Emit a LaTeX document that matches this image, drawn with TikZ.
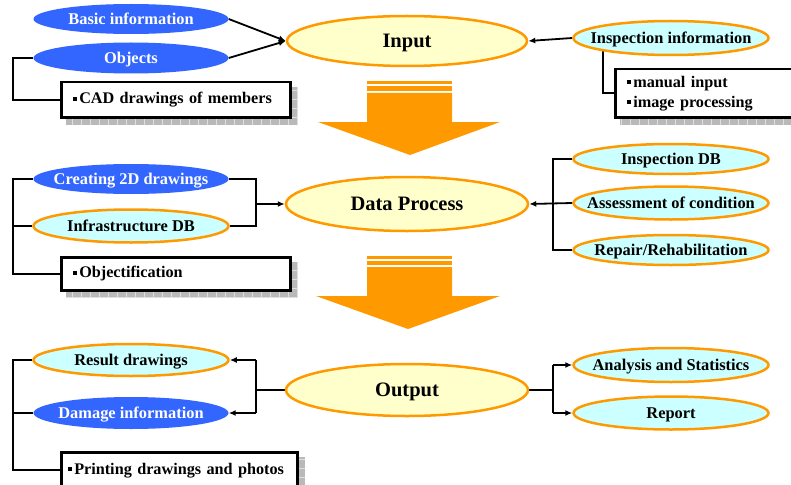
\documentclass[tikz,border=0pt]{standalone}
\usepackage{fontspec}
\setmainfont{Liberation Serif}
\usetikzlibrary{shapes.geometric,arrows.meta,backgrounds}
\definecolor{orng}{HTML}{FF9900}
\definecolor{blu}{HTML}{3366FF}
\definecolor{cyn}{HTML}{CCFFFF}
\definecolor{ylw}{HTML}{FFFFCC}
\newcommand{\sqb}{\rule[0.18em]{4pt}{4pt}\hspace{2pt}}
\newcommand{\zw}[1]{\makebox[0pt]{#1}}
\begin{document}
\begin{tikzpicture}[x=1pt,y=-1pt,
  mainell/.style={ellipse, draw=orng, line width=2.5pt, fill=ylw, inner sep=0pt,
    text depth=0pt, font=\fontsize{20.5}{22}\selectfont\bfseries},
  cyanell/.style={ellipse, draw=orng, line width=2.5pt, fill=cyn, inner sep=0pt,
    text depth=0pt, minimum width=195pt, font=\fontsize{16.4}{18}\selectfont\bfseries},
  blueell/.style={ellipse, fill=blu, text=white, inner sep=0pt, text depth=0pt,
    minimum width=195pt, font=\fontsize{16.4}{18}\selectfont\bfseries},
  boxnode/.style={draw, line width=2.5pt, fill=white, anchor=north west, align=left,
    inner xsep=12pt, inner ysep=0pt, font=\fontsize{16.2}{20}\selectfont\bfseries},
  conn/.style={line width=1.8pt},
  arr/.style={line width=1.8pt, -{Latex[length=7pt,width=6pt]}},
  bigarrow/.style={fill=orng, draw=none}
]
\useasboundingbox (0,0) rectangle (791,484);

% ---------- Input row ----------
\node[mainell, minimum width=240pt, minimum height=50pt] (input) at (407,41) {\zw{Input}};
\node[blueell, minimum height=30pt] (basic) at (131,19) {\zw{Basic information}};
\node[blueell, minimum height=31pt] (objects) at (131,58) {\zw{Objects}};
\node[cyanell, minimum height=34pt] (insp) at (671,38) {\zw{Inspection information}};
\node[boxnode, text width=205pt, minimum height=35pt] (cad) at (60,81) {\sqb CAD drawings of members};
\node[boxnode, text width=200pt, minimum height=48pt] (manual) at (614,68) {\sqb manual input\\\sqb image processing};

% ---------- Data process row ----------
\node[mainell, minimum width=242pt, minimum height=54pt] (dp) at (407,204) {\zw{Data Process}};
\node[blueell, minimum height=30pt] (creating) at (131,179) {\zw{Creating 2D drawings}};
\node[cyanell, minimum height=33pt] (infra) at (131,226) {\zw{Infrastructure DB}};
\node[boxnode, text width=205pt, minimum height=33pt] (objf) at (60,256) {\sqb Objectification};
\node[cyanell, minimum height=30pt] (inspdb) at (671,159) {\zw{Inspection DB}};
\node[cyanell, minimum height=33pt] (assess) at (671,203) {\zw{Assessment of condition}};
\node[cyanell, minimum height=30pt] (repair) at (671,250) {\zw{Repair/Rehabilitation}};

% ---------- Output row ----------
\node[mainell, minimum width=242pt, minimum height=52pt] (out) at (407,390) {\zw{Output}};
\node[cyanell, minimum height=32pt] (result) at (131,360) {\zw{Result drawings}};
\node[blueell, minimum height=32pt] (damage) at (131,413) {\zw{Damage information}};
\node[boxnode, inner xsep=7pt, text width=222pt, minimum height=36pt] (print) at (60,451) {\sqb Printing drawings and photos};
\node[cyanell, minimum height=34pt] (analysis) at (671,365) {\zw{Analysis and Statistics}};
\node[cyanell, minimum height=33pt] (report) at (671,413) {\zw{Report}};

% ---------- Big arrows ----------
\fill[bigarrow] (367,81) rectangle (452,84);
\fill[bigarrow] (367,86) rectangle (452,91);
\fill[bigarrow] (367,93) -- (452,93) -- (452,122) -- (500,122) -- (410,155) -- (318,122) -- (367,122) -- cycle;
\fill[bigarrow] (367,256) rectangle (452,259);
\fill[bigarrow] (367,261) rectangle (452,265);
\fill[bigarrow] (367,267) -- (452,267) -- (452,296) -- (500,296) -- (408,329) -- (316,296) -- (367,296) -- cycle;

\coordinate (L) at (13,0);
\coordinate (M) at (256,0);
\coordinate (R) at (553,0);
\coordinate (ib) at (603,38);

\begin{scope}[on background layer]
  % shadows
  \foreach \b in {cad,manual,objf,print}{
    \fill[gray!55] ([shift={(6,6)}]\b.north west) rectangle ([shift={(6,6)}]\b.south east);
    \draw[gray!25, line width=0.6pt, step=9pt] ([shift={(6,6)}]\b.north west) grid ([shift={(6,6)}]\b.south east);
  }
  % Input connectors
  \draw[arr] (basic.east) -- (input.west);
  \draw[arr] (objects.east) -- (input.west);
  \draw[conn] (objects.west) -- (objects.west -| L) |- (cad.west);
  \draw[arr] (insp.west) -- (input.east);
  \draw[conn] (ib) |- (manual.west);
  % Data process connectors
  \draw[conn] (creating.east) -- (creating.east -| M) -- (infra.east -| M) -- (infra.east);
  \draw[arr] (dp.west -| M) -- (dp.west);
  \draw[conn] (creating.west) -- (creating.west -| L) |- (objf.west);
  \draw[conn] (infra.west) -- (infra.west -| L);
  \draw[conn] (inspdb.west) -- (inspdb.west -| R) -- (repair.west -| R) -- (repair.west);
  \draw[arr] (assess.west) -- (dp.east);
  % Output connectors
  \draw[conn] (out.west) -- (out.west -| M);
  \draw[conn] (result.east -| M) -- (damage.east -| M);
  \draw[arr] (result.east -| M) -- (result.east);
  \draw[arr] (damage.east -| M) -- (damage.east);
  \draw[conn] (result.west) -- (result.west -| L) |- (print.west);
  \draw[conn] (damage.west) -- (damage.west -| L);
  \draw[conn] (out.east) -- (out.east -| R);
  \draw[conn] (analysis.west -| R) -- (report.west -| R);
  \draw[arr] (analysis.west -| R) -- (analysis.west);
  \draw[arr] (report.west -| R) -- (report.west);
\end{scope}
\end{tikzpicture}
\end{document}
